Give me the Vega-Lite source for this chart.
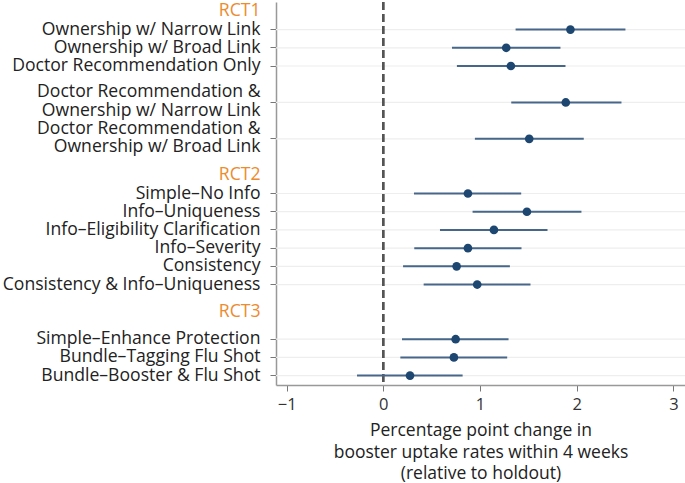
{
  "$schema": "https://vega.github.io/schema/vega-lite/v6.json",
  "autosize": {"type": "none"},
  "width": 409,
  "height": 383,
  "padding": {"left": 276, "top": 2, "right": 0, "bottom": 98},
  "background": "white",
  "config": {
    "font": "Open Sans",
    "view": {"stroke": null}
  },
  "data": {
    "values": [
      {"label": "Ownership w/ Narrow Link", "est": 1.935, "lo": 1.368, "hi": 2.504},
      {"label": "Ownership w/ Broad Link", "est": 1.271, "lo": 0.71, "hi": 1.832},
      {"label": "Doctor Recommendation Only", "est": 1.319, "lo": 0.761, "hi": 1.884},
      {"label": "Doctor Recommendation &|Ownership w/ Narrow Link", "est": 1.887, "lo": 1.323, "hi": 2.463},
      {"label": "Doctor Recommendation &|Ownership w/ Broad Link", "est": 1.509, "lo": 0.947, "hi": 2.073},
      {"label": "Simple–No Info", "est": 0.875, "lo": 0.317, "hi": 1.426},
      {"label": "Info–Uniqueness", "est": 1.485, "lo": 0.923, "hi": 2.049},
      {"label": "Info–Eligibility Clarification", "est": 1.144, "lo": 0.586, "hi": 1.698},
      {"label": "Info–Severity", "est": 0.875, "lo": 0.32, "hi": 1.429},
      {"label": "Consistency", "est": 0.758, "lo": 0.204, "hi": 1.309},
      {"label": "Consistency & Info–Uniqueness", "est": 0.971, "lo": 0.417, "hi": 1.522},
      {"label": "Simple–Enhance Protection", "est": 0.748, "lo": 0.193, "hi": 1.295},
      {"label": "Bundle–Tagging Flu Shot", "est": 0.73, "lo": 0.176, "hi": 1.281},
      {"label": "Bundle–Booster & Flu Shot", "est": 0.276, "lo": -0.272, "hi": 0.82}
    ]
  },
  "encoding": {
    "y": {
      "field": "label",
      "type": "nominal",
      "sort": null,
      "scale": {
        "domain": [
          "RCT1", "_1", "Ownership w/ Narrow Link", "_2", "Ownership w/ Broad Link", "_3", "Doctor Recommendation Only",
          "_4", "_5", "_6", "Doctor Recommendation &|Ownership w/ Narrow Link", "_7", "_8", "_9",
          "Doctor Recommendation &|Ownership w/ Broad Link", "_10", "_11", "_12", "RCT2", "_13",
          "Simple–No Info", "_14", "Info–Uniqueness", "_15", "Info–Eligibility Clarification", "_16",
          "Info–Severity", "_17", "Consistency", "_18", "Consistency & Info–Uniqueness", "_19", "_20",
          "RCT3", "_21", "_22", "Simple–Enhance Protection", "_23", "Bundle–Tagging Flu Shot", "_24",
          "Bundle–Booster & Flu Shot"
        ],
        "paddingInner": 0,
        "paddingOuter": 0.53
      },
      "axis": {
        "title": null,
        "values": [
          "RCT1", "Ownership w/ Narrow Link", "Ownership w/ Broad Link", "Doctor Recommendation Only",
          "Doctor Recommendation &|Ownership w/ Narrow Link", "Doctor Recommendation &|Ownership w/ Broad Link",
          "RCT2", "Simple–No Info", "Info–Uniqueness", "Info–Eligibility Clarification", "Info–Severity",
          "Consistency", "Consistency & Info–Uniqueness", "RCT3", "Simple–Enhance Protection",
          "Bundle–Tagging Flu Shot", "Bundle–Booster & Flu Shot"
        ],
        "labelExpr": "split(datum.label, '|')",
        "labelFontSize": 17.6,
        "labelLineHeight": 18.5,
        "labelPadding": 10,
        "labelOffset": {"condition": {"test": "indexof(datum.value, '|') >= 0", "value": -10}, "value": 0},
        "labelColor": {"condition": {"test": "indexof(datum.value, 'RCT') == 0", "value": "#ED8B2E"}, "value": "#222222"},
        "tickColor": {"condition": {"test": "indexof(datum.value, 'RCT') == 0", "value": "rgba(0,0,0,0)"}, "value": "#777777"},
        "tickSize": 6,
        "domainColor": "#999999",
        "domainWidth": 1.5,
        "grid": false,
        "labelLimit": 400
      }
    }
  },
  "layer": [
    {
      "mark": {"type": "rule", "color": "#eeeeee", "strokeWidth": 1.2},
      "encoding": {}
    },
    {
      "mark": {"type": "rule", "color": "#555555", "strokeWidth": 1.5, "strokeDash": [8, 4]},
      "encoding": {"x": {"datum": 0, "type": "quantitative"}, "y": null}
    },
    {
      "mark": {"type": "rule", "color": "#46678a", "strokeWidth": 2},
      "encoding": {
        "x": {
          "field": "lo",
          "type": "quantitative",
          "scale": {"domain": [-1.11, 3.12], "nice": false, "zero": false},
          "axis": {
            "values": [-1, 0, 1, 2, 3],
            "format": "d",
            "grid": false,
            "labelFontSize": 16.5,
            "labelColor": "#333333",
            "labelPadding": 5,
            "tickSize": 6,
            "tickColor": "#777777",
            "domainColor": "#999999",
            "domainWidth": 1.5,
            "title": ["Percentage point change in", "booster uptake rates within 4 weeks", "(relative to holdout)"],
            "titleFontSize": 17.5,
            "titleFontWeight": "normal",
            "titleLineHeight": 21.5,
            "titleColor": "#222222",
            "titlePadding": 9
          }
        },
        "x2": {"field": "hi"}
      }
    },
    {
      "mark": {"type": "circle", "color": "#1d4670", "size": 75, "opacity": 1},
      "encoding": {"x": {"field": "est", "type": "quantitative"}}
    }
  ]
}
